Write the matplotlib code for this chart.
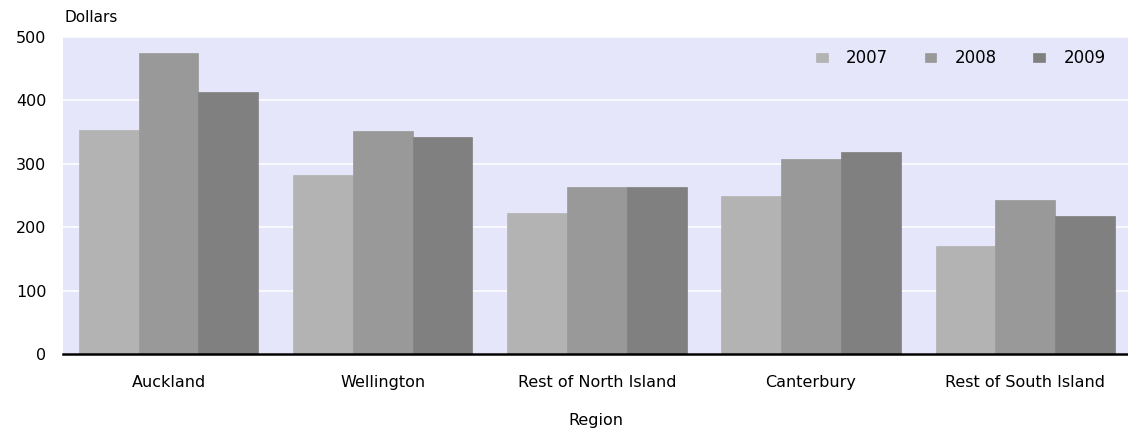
import matplotlib
matplotlib.use("Agg")
import matplotlib.pyplot as plt
import numpy as np

regions = ["Auckland", "Wellington", "Rest of North Island", "Canterbury", "Rest of South Island"]
years = ["2007", "2008", "2009"]
values_2007 = [354, 283, 222, 249, 171]
values_2008 = [474, 351, 263, 307, 243]
values_2009 = [414, 342, 263, 319, 218]

colors = ["#b3b3b3", "#999999", "#808080"]

plt.rcParams["font.family"] = "DejaVu Sans"

fig = plt.figure(figsize=(11.28, 4.30), dpi=100)
ax = fig.add_axes([63 / 1128, 1 - 354 / 430, 1 - 63 / 1128, (354 - 37) / 430])
ax.set_facecolor("#e6e6fa")

x = np.arange(len(regions))
width = 0.279
for i, (yr, vals) in enumerate(zip(years, [values_2007, values_2008, values_2009])):
    ax.bar(x + (i - 1) * width, vals, width, color=colors[i], label=yr,
           edgecolor=colors[i], linewidth=0.5, zorder=3)

ax.set_xlim(-0.493, 4.48)
ax.set_ylim(0, 500)
ax.set_yticks([0, 100, 200, 300, 400, 500])
ax.set_xticks(x)
ax.set_xticklabels(regions)
ax.tick_params(length=0, labelsize=11.5, colors="black")
ax.tick_params(axis="x", pad=15)
ax.tick_params(axis="y", pad=12)
ax.grid(axis="y", color="white", linewidth=1.1, zorder=1)
ax.set_axisbelow(True)
for side in ["top", "right", "left"]:
    ax.spines[side].set_visible(False)
ax.spines["bottom"].set_color("black")
ax.spines["bottom"].set_linewidth(1.8)
ax.spines["bottom"].set_zorder(4)

ax.set_xlabel("Region", fontsize=11.5, labelpad=17)
fig.text(65 / 1128, 1 - 17 / 430, "Dollars", fontsize=11, va="center", ha="left")

leg = ax.legend(loc="upper right", ncol=3, frameon=False, fontsize=12,
                handlelength=0.7, handleheight=0.5, handletextpad=1.1,
                columnspacing=2.2, bbox_to_anchor=(0.993, 1.008))

fig.savefig("out.png", dpi=100)
